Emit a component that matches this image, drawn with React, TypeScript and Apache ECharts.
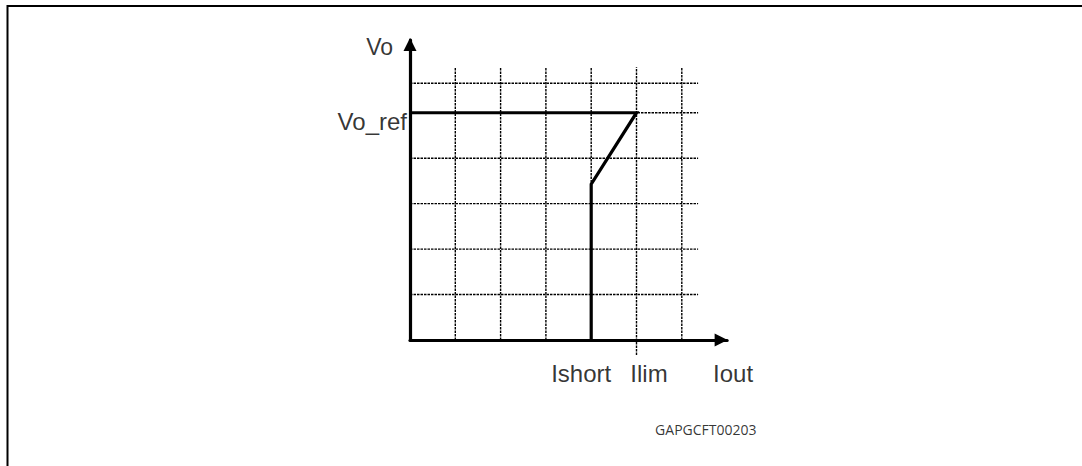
import React, { useEffect, useRef } from "react";
import * as echarts from "echarts";

// Curve (foldback current limit characteristic), in grid units
const curveX = [0, 5, 4, 4];
const curveY = [5, 5, 3.43, 0];

// Dashed grid
const hGridLevels = [1, 2, 3, 4, 5, 5.65];
const hGridEnd = 6.36;
const vGridPositions = [1, 2, 3, 4, 5, 6];
const vGridTop = 6.0;
const ilimPosition = 5;
const ilimBottom = -0.33;

// Axis extents
const xMax = 7;
const yMax = 6.6;

// Annotations
const annotationTexts = ["Vo", "Vo_ref", "Ishort", "Ilim", "Iout", "GAPGCFT00203"];
const annotationX = [0, 0, 4, 5, 7, 7];
const annotationY = [yMax, 5, 0, 0, 0, 0];

const FONT = "'Liberation Sans', Arial, sans-serif";

export default function App() {
  const ref = useRef<HTMLDivElement>(null);

  useEffect(() => {
    if (!ref.current) return;
    const chart = echarts.init(ref.current, null, { renderer: "svg" });

    const dashed = {
      color: "#000",
      width: 1.4,
      type: [2.5, 1] as number[],
    };

    const gridSeries: any[] = [];
    hGridLevels.forEach((lv, i) => {
      gridSeries.push({
        type: "line",
        name: "h" + i,
        data: [
          [0, lv],
          [hGridEnd, lv],
        ],
        symbol: "none",
        silent: true,
        clip: false,
        lineStyle: dashed,
        z: 1,
      });
    });
    vGridPositions.forEach((xv, i) => {
      gridSeries.push({
        type: "line",
        name: "v" + i,
        data: [
          [xv, xv === ilimPosition ? ilimBottom : 0],
          [xv, vGridTop],
        ],
        symbol: "none",
        silent: true,
        clip: false,
        lineStyle: dashed,
        z: 1,
      });
    });

    const labelStyles: any[] = [
      { align: "right", offset: [-17, 7], fontSize: 23, fontFamily: FONT },
      { align: "right", offset: [-3, 9], fontSize: 24, fontFamily: FONT },
      { align: "center", offset: [-10, 33.5], fontSize: 24, fontFamily: FONT },
      { align: "center", offset: [12.5, 33.5], fontSize: 24, fontFamily: FONT },
      { align: "center", offset: [6, 33.5], fontSize: 24, fontFamily: FONT },
      { align: "left", offset: [-72, 89], fontSize: 14, fontFamily: "'Open Sans', sans-serif" },
    ];

    const annotationData = annotationTexts.map((t, i) => ({
      value: [annotationX[i], annotationY[i]],
      name: t,
      label: {
        show: true,
        position: "inside",
        formatter: t,
        color: "#000",
        verticalAlign: "middle",
        ...labelStyles[i],
      },
    }));

    const axisLineCommon = {
      show: true,
      lineStyle: { color: "#000", width: 3.2 },
      symbol: ["none", "triangle"],
      symbolSize: [13, 13],
    };

    chart.setOption({
      animation: false,
      backgroundColor: "#fff",
      grid: { left: 410, top: 40, width: 317.1, height: 300 },
      xAxis: {
        type: "value",
        min: 0,
        max: xMax,
        axisLine: { ...axisLineCommon, symbolOffset: [0, -6] },
        axisTick: { show: false },
        axisLabel: { show: false },
        splitLine: { show: false },
      },
      yAxis: {
        type: "value",
        min: 0,
        max: yMax,
        axisLine: { ...axisLineCommon, symbolOffset: [0, -4.5] },
        axisTick: { show: false },
        axisLabel: { show: false },
        splitLine: { show: false },
      },
      graphic: [
        {
          type: "polyline",
          shape: {
            points: [
              [7.5, 466],
              [7.5, 6],
              [1082, 6],
            ],
          },
          style: { stroke: "#000", lineWidth: 2, fill: "none" },
          silent: true,
        },
      ],
      series: [
        ...gridSeries,
        {
          type: "line",
          name: "Vo",
          data: curveX.map((x, i) => [x, curveY[i]]),
          symbol: "none",
          silent: true,
          clip: false,
          lineStyle: { color: "#000", width: 3.2, join: "miter" },
          z: 5,
        },
        {
          type: "scatter",
          name: "annotations",
          data: annotationData,
          symbolSize: 0,
          silent: true,
          clip: false,
          z: 6,
        },
      ],
    });

    return () => chart.dispose();
  }, []);

  return (
    <div
      ref={ref}
      style={{ position: "fixed", left: 0, top: 0, width: 1082, height: 466, background: "#fff" }}
    />
  );
}
